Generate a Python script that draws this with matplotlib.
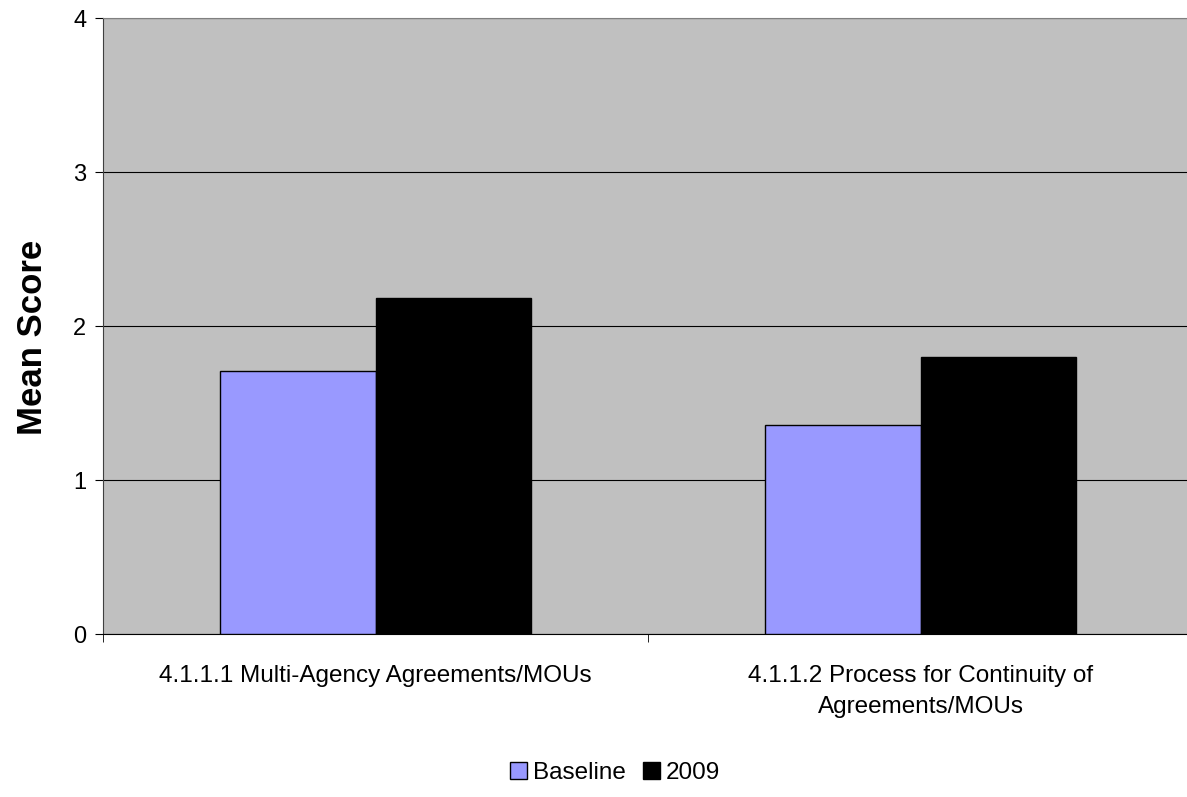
import matplotlib
matplotlib.use("Agg")
import matplotlib.pyplot as plt
import numpy as np
from matplotlib.patches import Patch

plt.rcParams['font.family'] = ['Liberation Sans', 'DejaVu Sans']

# mean scores per standard
categories = ["4.1.1.1 Multi-Agency Agreements/MOUs",
              "4.1.1.2 Process for Continuity of\nAgreements/MOUs"]
series_names = ["Baseline", "2009"]
baseline = [1.71, 1.36]
y2009 = [2.18, 1.80]
colors = ["#9999FF", "#000000"]

fig = plt.figure(figsize=(11.87, 7.97), dpi=100)
ax = fig.add_axes([0.0868, 0.2045, 0.9183, 0.7729])
ax.set_facecolor("#C0C0C0")

x = np.arange(len(categories))
w = 1 / 3.5  # gap width 150%
ax.bar(x - w / 2, baseline, w, color=colors[0], edgecolor="black", linewidth=1, zorder=3)
ax.bar(x + w / 2, y2009, w, color=colors[1], edgecolor="black", linewidth=1, zorder=3)

ax.set_xlim(-0.5, len(categories) - 0.5)
ax.set_ylim(0, 4)
ax.set_yticks([0, 1, 2, 3, 4])
ax.yaxis.grid(True, color="black", linewidth=0.8, zorder=1)
ax.set_axisbelow(True)

# labels centred on groups, tick marks at group boundaries
ax.set_xticks(x)
ax.set_xticklabels(categories, fontsize=17.5, linespacing=1.55)
ax.tick_params(axis="x", which="major", length=0, pad=22)
ax.set_xticks(np.arange(-0.5, len(categories)), minor=True)
ax.tick_params(axis="x", which="minor", length=6, direction="out", color="black")
ax.tick_params(axis="y", length=6, direction="out", labelsize=17, pad=6)

for s in ["top", "right"]:
    ax.spines[s].set_color("#808080")
ax.spines["left"].set_color("#404040")
ax.spines["bottom"].set_color("black")

ax.set_ylabel("Mean Score", fontsize=25, fontweight="bold")
ax.yaxis.set_label_coords(-0.05, 0.481)

handles = [Patch(facecolor=c, edgecolor="black", label=n) for c, n in zip(colors, series_names)]
fig.legend(handles=handles, loc="center", bbox_to_anchor=(0.518, 0.03), ncol=2,
           frameon=False, fontsize=17.5, handlelength=0.7, handleheight=0.7,
           handletextpad=0.25, columnspacing=0.7)

fig.savefig("out.png", dpi=100)
plt.close(fig)
